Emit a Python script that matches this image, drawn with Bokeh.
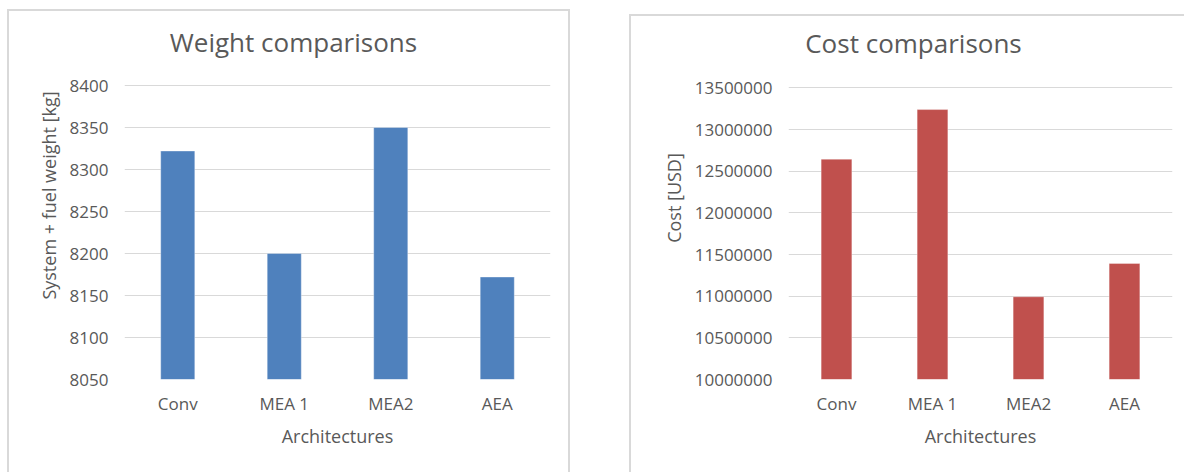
from bokeh.plotting import figure
from bokeh.layouts import row
from bokeh.models import Range1d, FixedTicker, BasicTickFormatter
from bokeh.core.properties import value
from bokeh.embed import file_html
from bokeh.resources import INLINE

# ---- data ----
architectures = ["Conv", "MEA 1", "MEA2", "AEA"]
weights_kg = [8322, 8200, 8350, 8172]
costs_usd = [12645000, 13240000, 10993000, 11393000]
weight_ticks = [8050, 8100, 8150, 8200, 8250, 8300, 8350, 8400]
cost_ticks = [10000000, 10500000, 11000000, 11500000, 12000000, 12500000, 13000000, 13500000]

FONT = "Open Sans"
TXT = "#595959"
GRID = "#d9d9d9"
BORDER = "2px solid #d9d9d9"


def make_panel(title, values, ticks, ylabel, color, width, height, mb_left, mb_right, mb_bottom,
               frame_h, axis_top_px, title_px, title_base_px, margin, styles):
    # frame spans from canvas top to bottom border; the top of the value axis sits axis_top_px below frame top
    lo, hi = ticks[0], ticks[-1]
    px_per_unit = (frame_h - axis_top_px) / (hi - lo)
    y_end = hi + axis_top_px / px_per_unit
    p = figure(x_range=architectures, y_range=Range1d(lo, y_end),
               width=width, height=height, output_backend="svg", toolbar_location=None,
               min_border_left=mb_left, min_border_right=mb_right, min_border_top=0, min_border_bottom=mb_bottom)
    p.vbar(x=architectures, top=values, bottom=lo, width=0.32,
           fill_color=color, line_color="#ffffff", line_alpha=0.35, line_width=1)
    p.outline_line_color = None
    p.background_fill_color = "white"
    p.border_fill_color = "white"
    p.xgrid.grid_line_color = None
    p.ygrid.grid_line_color = GRID
    p.ygrid.grid_line_width = 1

    tk = FixedTicker(ticks=ticks)
    p.yaxis.ticker = tk
    p.ygrid.ticker = tk
    p.yaxis.formatter = BasicTickFormatter(use_scientific=False)
    for ax in (p.xaxis[0], p.yaxis[0]):
        ax.axis_line_color = None
        ax.major_tick_line_color = None
        ax.minor_tick_line_color = None
        ax.major_tick_out = 0
        ax.major_tick_in = 0
        ax.major_label_text_font = FONT
        ax.major_label_text_font_size = "17px"
        ax.major_label_text_color = TXT
        ax.axis_label_text_font = FONT
        ax.axis_label_text_font_size = "18px"
        ax.axis_label_text_color = TXT
        ax.axis_label_text_font_style = "normal"
    p.yaxis.major_label_standoff = 16
    p.yaxis.axis_label = ylabel
    p.yaxis.axis_label_standoff = 6
    p.xaxis.major_label_standoff = 12
    p.xaxis.axis_label = "Architectures"
    p.xaxis.axis_label_standoff = 6

    # chart title, placed in the empty top part of the frame
    frame_w = width - mb_left - mb_right
    tx = title_px / frame_w * len(architectures)
    ty = hi + (axis_top_px - title_base_px) / px_per_unit
    p.text(x=[tx], y=[ty], text=[title], text_font=value(FONT), text_font_size="26px",
           text_color=TXT, text_align="center", text_baseline="alphabetic")
    p.margin = margin
    p.styles = styles
    return p


# left panel: canvas starts at (9, 11); plot area 124..550 x 85..379
p1 = make_panel("Weight comparisons", weights_kg, weight_ticks, "System + fuel weight [kg]", "#4f81bd",
                563, 463, 115, 22, 95, 368, 74, 169, 30, (9, 0, 0, 7),
                {"border-left": BORDER, "border-top": BORDER, "border-right": BORDER})
# right panel: canvas starts at (635, 16); plot area 792..1176 x 88..382
p2 = make_panel("Cost comparisons", costs_usd, cost_ticks, "Cost [USD]", "#c0504d",
                555, 458, 157, 14, 92, 366, 72, 125, 27, (14, 0, 0, 59),
                {"border-left": BORDER, "border-top": BORDER})

layout = row(p1, p2)
open("out.html", "w").write(file_html(layout, INLINE))
